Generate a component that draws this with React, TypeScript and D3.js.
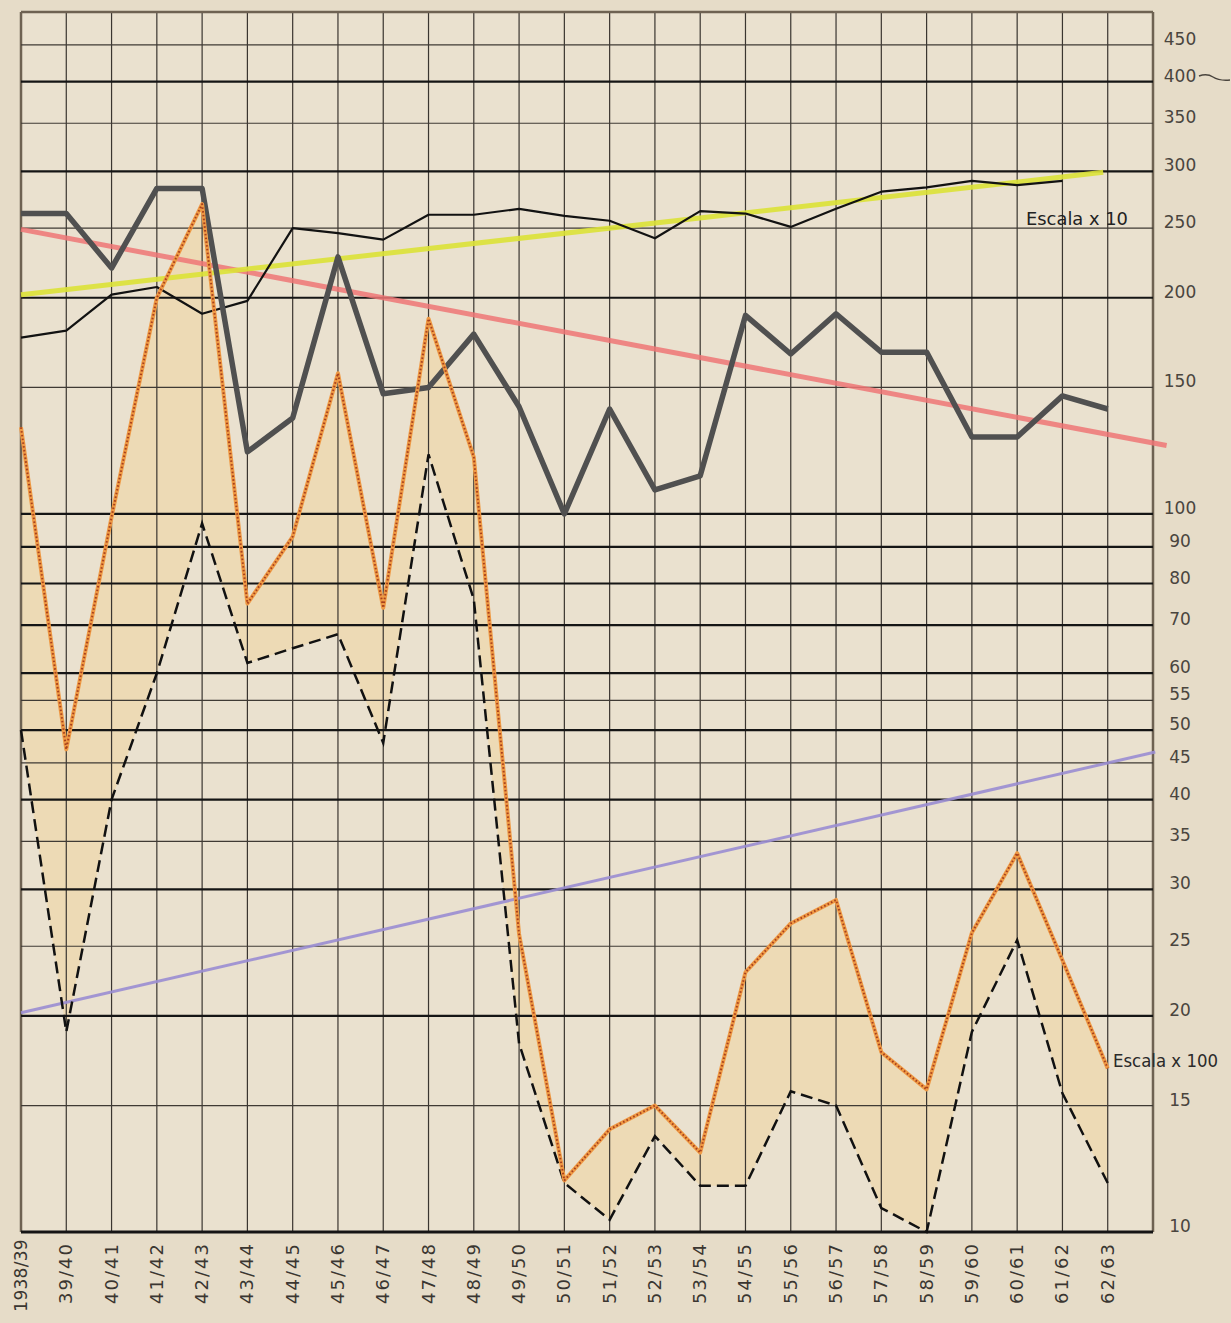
import React from "react";
import * as d3 from "d3";

const seasons = ["1938/39","39/40","40/41","41/42","42/43","43/44","44/45","45/46","46/47","47/48","48/49","49/50","50/51","51/52","52/53","53/54","54/55","55/56","56/57","57/58","58/59","59/60","60/61","61/62","62/63"];

// thin black line (Escala x 10)
const thinSeries = [176, 180, 202, 207, 190, 198, 250, 246, 241, 261, 261, 266, 260, 256, 242, 264, 262, 251, 266, 281, 285, 291, 287, 291];
// thick grey line
const thickSeries = [262, 262, 220, 284, 284, 122, 136, 228, 147, 150, 178, 141, 100, 140, 108, 113, 189, 167, 190, 168, 168, 128, 128, 146, 140];
// orange dotted line (Escala x 100)
const orangeSeries = [132, 47, 99, 200, 270, 75, 93, 157, 74, 187, 120, 26, 11.8, 13.9, 15, 12.9, 23, 26.9, 29, 17.8, 15.8, 26.1, 33.7, 23.9, 16.9];
// dashed black line
const dashedSeries = [50, 19, 40, 60, 97, 62, 65, 68, 48, 121, 76, 18.3, 11.7, 10.4, 13.6, 11.6, 11.6, 15.7, 15, 10.8, 10, 19, 25.5, 15.6, 11.7];

// trend lines: [startIndex, startValue, endIndex, endValue]
const redTrend = [0, 249, 25.3, 124.5];
const yellowTrend = [0, 202, 23.9, 299];
const purpleTrend = [0, 20.2, 25.05, 46.6];

const tickValues = [450, 400, 350, 300, 250, 200, 150, 100, 90, 80, 70, 60, 55, 50, 45, 40, 35, 30, 25, 20, 15, 10];
const majorTicks = [400, 300, 200, 100, 90, 80, 70, 60, 50, 40, 30, 20, 10];

const W = 1231;
const H = 1323;

export default function App() {
  const x = d3.scaleLinear().domain([0, 25]).range([21, 1153]);
  const y = d3.scaleLog().domain([10, 500]).range([1232, 12]);

  const lineGen = d3
    .line<number>()
    .x((_, i) => x(i))
    .y((d) => y(d));

  const areaGen = d3
    .area<number>()
    .x((_, i) => x(i))
    .y0((_, i) => y(dashedSeries[i]))
    .y1((d) => y(d));

  const trend = (t: number[]) =>
    d3.line<number[]>().x((p) => x(p[0])).y((p) => y(p[1]))([
      [t[0], t[1]],
      [t[2], t[3]],
    ]) as string;

  const cols = d3.range(0, 26);
  const bg = "#E6DCC8";

  return (
    <svg
      width={W}
      height={H}
      style={{ position: "absolute", left: 0, top: 0, display: "block" }}
      fontFamily="DejaVu Sans, sans-serif"
    >
      <rect x={0} y={0} width={W} height={H} fill={bg} />
      <rect x={x(0)} y={y(500)} width={x(25) - x(0)} height={y(10) - y(500)} fill="#EAE1CF" />

      {/* fill between orange and dashed */}
      <path d={areaGen(orangeSeries) as string} fill="#F3D08E" fillOpacity={0.4} />

      {/* vertical grid */}
      {cols.map((i) => (
        <line
          key={"v" + i}
          x1={x(i)}
          x2={x(i)}
          y1={y(500)}
          y2={y(10)}
          stroke={i === 0 || i === 25 ? "#6e6252" : "#3a3530"}
          strokeWidth={i === 0 || i === 25 ? 2.5 : 1.2}
        />
      ))}

      {/* horizontal grid */}
      {tickValues.map((v) => {
        const major = majorTicks.includes(v);
        return (
          <line
            key={"h" + v}
            x1={x(0)}
            x2={x(25)}
            y1={y(v)}
            y2={y(v)}
            stroke={major ? "#151515" : "#3f3a34"}
            strokeWidth={v === 10 ? 3 : major ? 2.2 : 1.2}
          />
        );
      })}
      <line x1={x(0)} x2={x(25)} y1={y(500)} y2={y(500)} stroke="#6e6252" strokeWidth={2.5} />

      {/* trend lines */}
      <path d={trend(redTrend)} stroke="#EE7676" strokeWidth={5} strokeOpacity={0.85} fill="none" />
      <path d={trend(yellowTrend)} stroke="#DCE236" strokeWidth={5} strokeOpacity={0.9} fill="none" />
      <path d={trend(purpleTrend)} stroke="#9A8DD2" strokeWidth={3} strokeOpacity={0.9} fill="none" />

      {/* thin black series */}
      <path d={lineGen(thinSeries) as string} stroke="#121212" strokeWidth={2.2} fill="none" strokeLinejoin="round" />

      {/* thick grey series */}
      <path d={lineGen(thickSeries) as string} stroke="#505050" strokeWidth={5.5} fill="none" strokeLinejoin="round" />

      {/* dashed series */}
      <path
        d={lineGen(dashedSeries) as string}
        stroke="#111"
        strokeWidth={2.5}
        strokeDasharray="12 6"
        fill="none"
        strokeLinejoin="miter"
      />

      {/* orange dotted series */}
      <path d={lineGen(orangeSeries) as string} stroke="#EF9A45" strokeWidth={4} fill="none" strokeLinejoin="round" />
      <path
        d={lineGen(orangeSeries) as string}
        stroke="#A8401C"
        strokeWidth={2}
        strokeDasharray="1.6 2.2"
        fill="none"
        strokeLinejoin="round"
      />

      {/* right axis labels */}
      {tickValues.map((v) => (
        <text
          key={"t" + v}
          x={1180}
          y={y(v) - 5}
          textAnchor="middle"
          dominantBaseline="middle"
          fontSize={17}
          fill="#4a453e"
        >
          {v}
        </text>
      ))}
      <path d="M1199,76 q8,-3 14,1 t17,3" stroke="#4a453e" strokeWidth={1.5} fill="none" />

      {/* scale notes */}
      <text x={1026} y={225} fontSize={18} fill="#222" textLength={102} lengthAdjust="spacingAndGlyphs">
        Escala x 10
      </text>
      <text x={1113} y={1067} fontSize={17} fill="#2a2a2a" textLength={105} lengthAdjust="spacingAndGlyphs">
        Escala x 100
      </text>

      {/* x labels */}
      {seasons.map((s, i) => (
        <text
          key={"x" + i}
          transform={`translate(${x(i) + 6},${i === 0 ? 1239 : 1242}) rotate(-90)`}
          textAnchor="end"
          fontSize={i === 0 ? 17 : 18}
          letterSpacing={i === 0 ? 0.3 : 2}
          fill="#3a3631"
        >
          {s}
        </text>
      ))}
    </svg>
  );
}
